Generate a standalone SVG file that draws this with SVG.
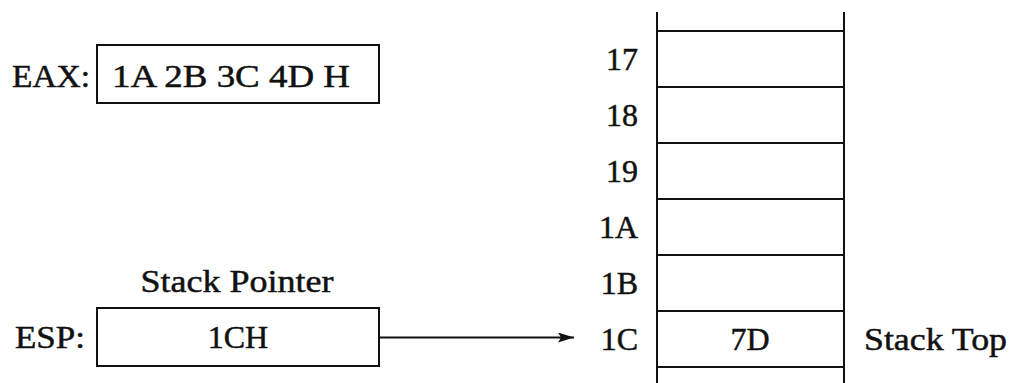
<svg xmlns="http://www.w3.org/2000/svg" width="1012" height="383" viewBox="0 0 1012 383">
<style>
text{font-family:"Liberation Serif","Times New Roman",serif;font-size:32px;fill:#111;stroke:#111;stroke-width:0.5}
.box{fill:none;stroke:#111;stroke-width:2}
.ln{stroke:#111;stroke-width:2;fill:none}
.mid{text-anchor:middle}
.end{text-anchor:end}
</style>
<defs>
<marker id="ah" viewBox="0 0 16 10" refX="16" refY="5" markerWidth="16" markerHeight="10" markerUnits="userSpaceOnUse" orient="auto">
<path d="M0,0 L16,5 L0,10 L3,5 Z" fill="#111"/>
</marker>
</defs>
<rect width="1012" height="383" fill="#fff"/>
<g id="eax">
<text x="12" y="87" textLength="78" lengthAdjust="spacingAndGlyphs">EAX:</text>
<rect class="box" x="97" y="45" width="282" height="58"/>
<text x="231" y="87" class="mid" textLength="238" lengthAdjust="spacingAndGlyphs">1A 2B 3C 4D H</text>
</g>
<g id="esp">
<text x="237" y="292" class="mid" textLength="193" lengthAdjust="spacingAndGlyphs">Stack Pointer</text>
<text x="15" y="348" textLength="70" lengthAdjust="spacingAndGlyphs">ESP:</text>
<rect class="box" x="97" y="308" width="282" height="58"/>
<text x="238" y="348" class="mid">1CH</text>
</g>
<g id="stack">
<line class="ln" x1="657" y1="12" x2="657" y2="383"/>
<line class="ln" x1="844" y1="12" x2="844" y2="383"/>
<line class="ln" x1="657" y1="31" x2="844" y2="31"/>
<line class="ln" x1="657" y1="87" x2="844" y2="87"/>
<line class="ln" x1="657" y1="143" x2="844" y2="143"/>
<line class="ln" x1="657" y1="199" x2="844" y2="199"/>
<line class="ln" x1="657" y1="255" x2="844" y2="255"/>
<line class="ln" x1="657" y1="311" x2="844" y2="311"/>
<line class="ln" x1="657" y1="367" x2="844" y2="367"/>
<text x="638" y="70" class="end">17</text>
<text x="638" y="126" class="end">18</text>
<text x="638" y="182" class="end">19</text>
<text x="638" y="238" class="end">1A</text>
<text x="638" y="294" class="end">1B</text>
<text x="638" y="350" class="end">1C</text>
<text x="750" y="350" class="mid">7D</text>
<text x="864" y="350" textLength="143" lengthAdjust="spacingAndGlyphs">Stack Top</text>
</g>
<g id="connectors">
<line class="ln" x1="379" y1="337.5" x2="574" y2="337.5" marker-end="url(#ah)"/>
</g>
</svg>
